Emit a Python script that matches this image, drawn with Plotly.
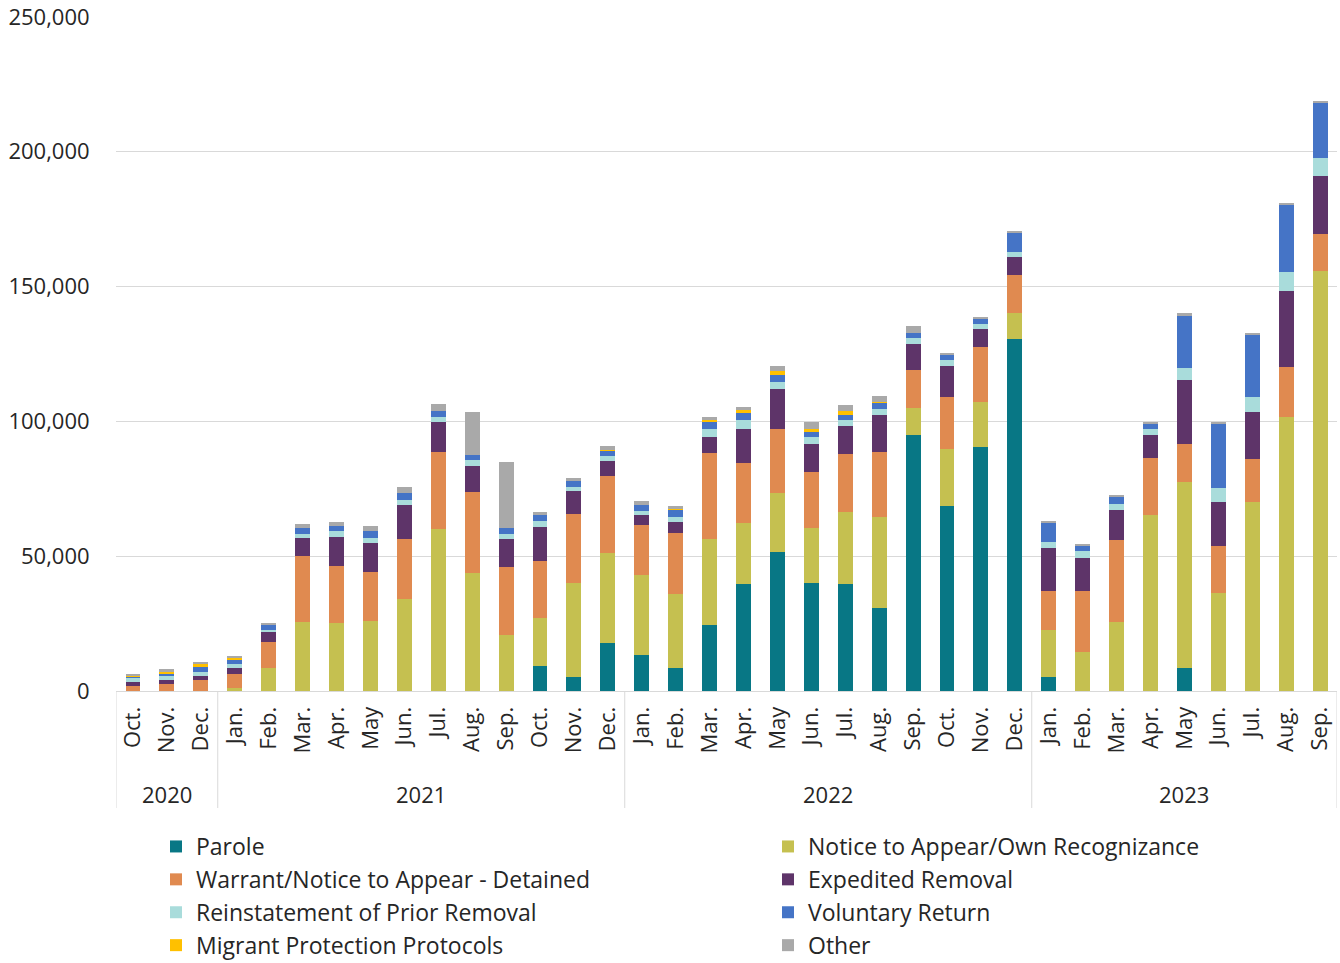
import plotly.graph_objects as go

months = ["Oct.", "Nov.", "Dec.",
          "Jan.", "Feb.", "Mar.", "Apr.", "May", "Jun.", "Jul.", "Aug.", "Sep.", "Oct.", "Nov.", "Dec.",
          "Jan.", "Feb.", "Mar.", "Apr.", "May", "Jun.", "Jul.", "Aug.", "Sep.", "Oct.", "Nov.", "Dec.",
          "Jan.", "Feb.", "Mar.", "Apr.", "May", "Jun.", "Jul.", "Aug.", "Sep."]
years = ["2020"] * 3 + ["2021"] * 12 + ["2022"] * 12 + ["2023"] * 9
year_labels = ["2020", "2021", "2022", "2023"]
y_ticks = [0, 50000, 100000, 150000, 200000, 250000]

parole = [0, 0, 0, 0, 0, 0, 0, 0, 0, 0, 0, 0, 9400, 5200, 17700,
          13300, 8500, 24600, 39800, 51400, 40000, 39600, 30900, 95100, 68700, 90400, 130400,
          5100, 0, 0, 0, 8700, 0, 0, 0, 0]
nta = [0, 0, 0, 1000, 8500, 25600, 25300, 25900, 34200, 60100, 43600, 20600, 17700, 34700, 33500,
       29900, 27500, 31600, 22500, 22000, 20400, 26700, 33800, 9800, 20900, 16700, 9600,
       17700, 14600, 25600, 65400, 68800, 36300, 70200, 101500, 155700]
warrant = [1900, 2500, 4000, 5200, 9600, 24600, 21200, 18200, 22100, 28400, 30300, 25400, 21100, 25600, 28500,
           18400, 22500, 32000, 22200, 23600, 20900, 21600, 24100, 14300, 19400, 20500, 14300,
           14400, 22600, 30500, 20900, 14200, 17500, 16000, 18700, 13900]
expedited = [1400, 1500, 1600, 2400, 3700, 6400, 10700, 10900, 12800, 11200, 9500, 10300, 12700, 8500, 5700,
             3600, 4000, 6100, 12500, 15100, 10300, 10300, 13500, 9500, 11400, 6500, 6500,
             15800, 12000, 11000, 8600, 23500, 16200, 17300, 28000, 21300]
reinstatement = [1600, 1700, 1400, 1400, 1000, 1500, 2000, 1900, 1900, 2000, 2100, 2000, 2000, 1700, 1700,
                 1700, 2000, 2700, 3600, 2600, 2500, 2400, 2400, 2100, 2200, 2000, 2000,
                 2200, 2600, 2400, 2200, 4700, 5200, 5700, 7000, 6600]
voluntary = [300, 700, 1900, 1700, 1900, 2500, 2100, 2600, 2400, 2000, 2000, 2100, 2400, 2200, 2100,
             2200, 2700, 3000, 2600, 2600, 2000, 1900, 2100, 2000, 2100, 2100, 7300,
             7400, 2100, 2700, 2000, 19300, 24000, 22700, 24900, 20500]
mpp = [700, 900, 1300, 600, 0, 0, 0, 0, 0, 0, 0, 0, 0, 0, 300,
       0, 300, 600, 900, 1200, 1100, 1200, 400, 0, 0, 0, 0,
       0, 0, 0, 0, 0, 0, 0, 0, 0]
other = [500, 700, 600, 600, 700, 1200, 1200, 1600, 2100, 2600, 15800, 24500, 1000, 1000, 1200,
         1200, 1000, 1000, 1100, 2200, 2500, 2500, 2100, 2500, 600, 500, 600,
         600, 600, 600, 700, 900, 700, 900, 900, 900]

series = [
    ("Parole", parole, "#087785", "legend"),
    ("Notice to Appear/Own Recognizance", nta, "#c5c050", "legend2"),
    ("Warrant/Notice to Appear - Detained", warrant, "#e08a50", "legend"),
    ("Expedited Removal", expedited, "#5e3469", "legend2"),
    ("Reinstatement of Prior Removal", reinstatement, "#a9dcdb", "legend"),
    ("Voluntary Return", voluntary, "#4574c6", "legend2"),
    ("Migrant Protection Protocols", mpp, "#ffc000", "legend"),
    ("Other", other, "#a9a9a9", "legend2"),
]

cats = [f"{m} {y}" for m, y in zip(months, years)]

FONT = "Open Sans"
TXT = "#262626"
TICK = 22
LEG = 23
W, H = 1340, 963

fig = go.Figure()
for i, (name, vals, color, leg) in enumerate(series):
    fig.add_trace(go.Bar(
        x=cats, y=vals, name=name, marker=dict(color=color, line=dict(width=0)),
        legend=leg, legendgroup=name, hoverinfo="y+name",
    ))

plot_w = W - 116 - 3
plot_h = H - 16 - 272
leg_top = 1 - 825 / H

fig.update_layout(
    barmode="stack",
    bargap=0.56,
    width=W, height=H,
    margin=dict(l=116, r=3, t=16, b=272, autoexpand=False),
    plot_bgcolor="white", paper_bgcolor="white",
    font=dict(family=FONT, size=TICK, color=TXT),
    showlegend=True,
    legend=dict(x=(156 - 116) / plot_w, xref="paper", y=leg_top, yref="container",
                xanchor="left", yanchor="top", orientation="v",
                font=dict(size=LEG, family=FONT, color=TXT), tracegroupgap=0,
                itemwidth=30, bgcolor="rgba(0,0,0,0)"),
    legend2=dict(x=(768 - 116) / plot_w, xref="paper", y=leg_top, yref="container",
                 xanchor="left", yanchor="top", orientation="v",
                 font=dict(size=LEG, family=FONT, color=TXT), tracegroupgap=0,
                 itemwidth=30, bgcolor="rgba(0,0,0,0)"),
)

fig.update_yaxes(range=[0, 250300], tickmode="array", tickvals=y_ticks,
                 ticktext=[f"{v:,}" for v in y_ticks],
                 showgrid=True, gridcolor="#d9d9d9", gridwidth=1,
                 zeroline=False, showline=False, automargin=False,
                 ticks="outside", ticklen=21, tickcolor="rgba(0,0,0,0)",
                 tickfont=dict(size=TICK, family=FONT, color=TXT))
fig.update_xaxes(type="category", range=[-0.5, 35.5], automargin=False,
                 tickmode="array", tickvals=cats, ticktext=months, tickangle=-90,
                 ticks="outside", ticklen=6, tickcolor="rgba(0,0,0,0)",
                 showline=True, linecolor="#d9d9d9", linewidth=1,
                 showgrid=False,
                 tickfont=dict(size=TICK, family=FONT, color=TXT))

# year group labels and dividers
bounds = [-0.5]
for yl in year_labels:
    idx = [i for i, y in enumerate(years) if y == yl]
    bounds.append(idx[-1] + 0.5)
    center = (idx[0] + idx[-1]) / 2
    fig.add_annotation(x=center, xref="x", y=-(794 - 691) / plot_h, yref="paper",
                       text=yl, showarrow=False, xanchor="center", yanchor="middle",
                       font=dict(size=TICK, family=FONT, color=TXT))
for b in bounds:
    fig.add_shape(type="line", xref="x", yref="paper", x0=b, x1=b,
                  y0=0, y1=-(808 - 691) / plot_h,
                  line=dict(color="#d9d9d9", width=1))

fig.write_html("out.html", config={"displayModeBar": False},
               post_script="document.body.style.margin='0';")
